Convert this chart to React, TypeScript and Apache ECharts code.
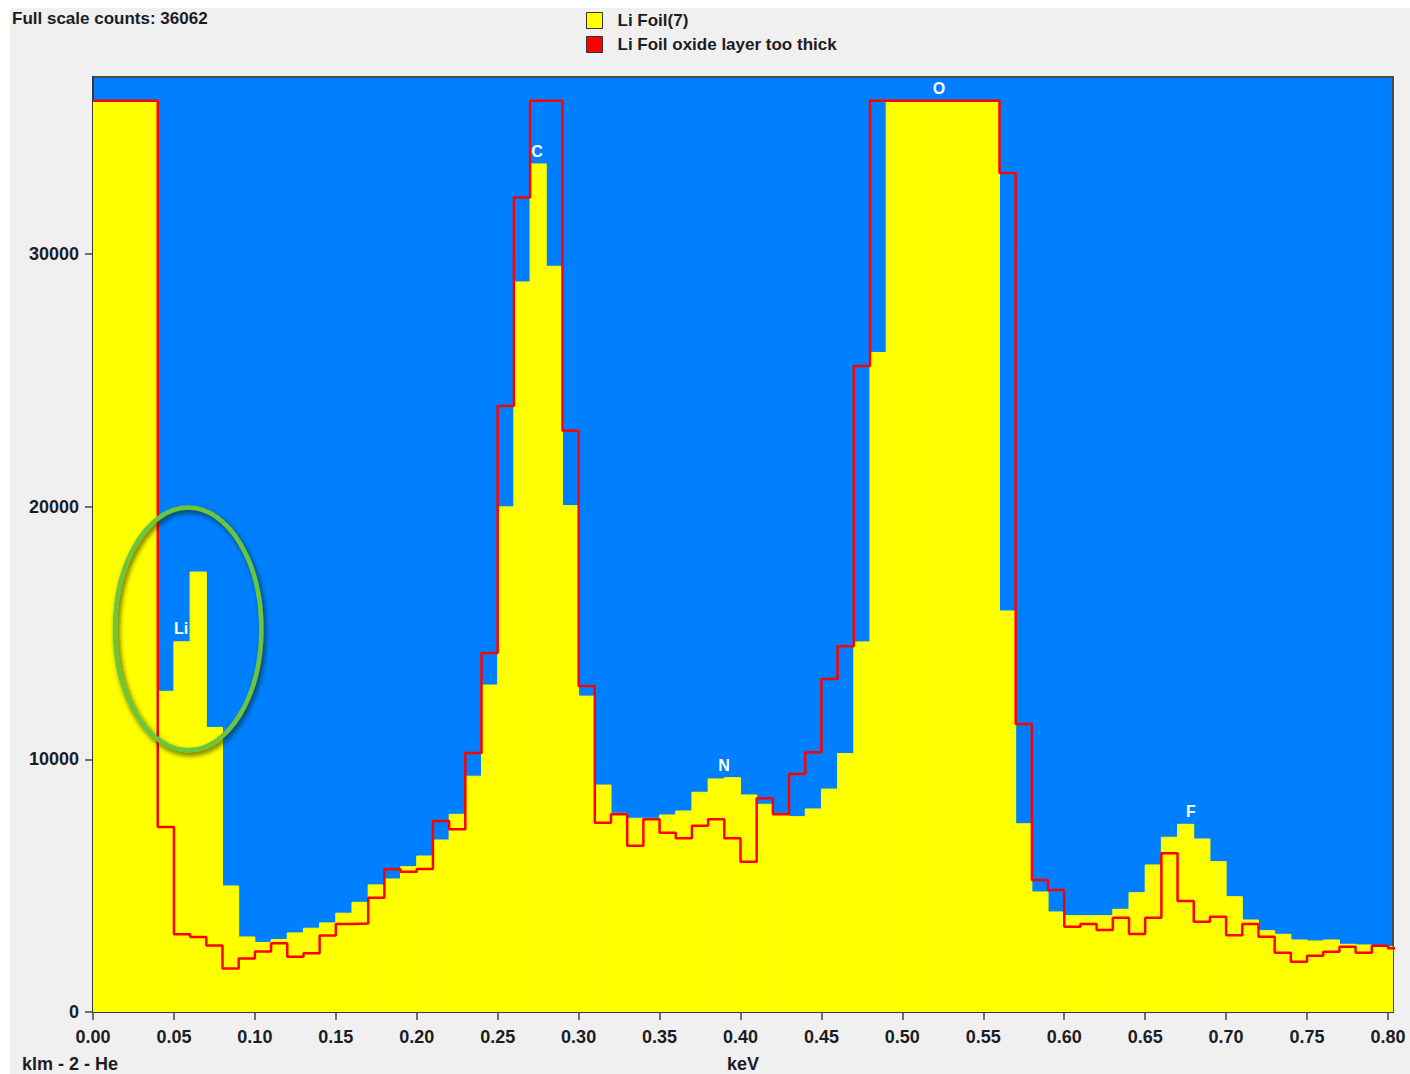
import React, { useEffect, useRef } from "react";
import * as echarts from "echarts";

// Spectrum binning (keV)
const binWidth = 0.01;
const fullScale = 36062;

// Li Foil(7) counts per 0.01 keV bin, starting at 0.00 keV
const liFoil = [
  fullScale, fullScale, fullScale, fullScale, 12690, 14650, 17410, 11260, 4987, 2968,
  2750, 2865, 3130, 3316, 3526, 3910, 4340, 5030, 5264, 5752,
  6174, 6807, 7823, 9330, 12938, 19990, 28890, 33560, 29510, 20040,
  12500, 8980, 7863, 7665, 7665, 7797, 7955, 8695, 9221, 9273,
  8588, 8220, 7797, 7731, 8034, 8820, 10230, 14644, 26100, fullScale,
  fullScale, fullScale, fullScale, fullScale, fullScale, fullScale, 15870, 7450, 4750, 3960,
  3811, 3811, 3811, 4064, 4722, 5818, 6914, 7428, 6847, 5950,
  4564, 3641, 3218, 3075, 2850, 2810, 2850, 2679, 2652, 2624,
  2585,
];

// Li Foil oxide layer too thick, same binning
const oxideThick = [
  fullScale, fullScale, fullScale, fullScale, 7320, 3076, 2964, 2636, 1718, 2113,
  2398, 2723, 2185, 2327, 3032, 3487, 3500, 4520, 5646, 5554,
  5660, 7560, 7230, 10250, 14208, 23984, 32236, fullScale, fullScale, 23002,
  12902, 7493, 7823, 6582, 7625, 7097, 6873, 7375, 7625, 6873,
  5950, 8457, 7823, 9420, 10277, 13179, 14470, 25567, fullScale, fullScale,
  fullScale, fullScale, fullScale, fullScale, fullScale, fullScale, 33205, 11398, 5224, 4828,
  3376, 3483, 3245, 3732, 3087, 3732, 6280, 4393, 3575, 3772,
  3035, 3483, 2980, 2347, 1991, 2229, 2387, 2585, 2347, 2624,
  2519,
];

// Element line markers
const peakNames = ["Li", "C", "N", "O", "F"];
const peakEnergies = [0.0544, 0.2743, 0.3898, 0.5226, 0.6783];
const peakLabelCounts = [15160, 34040, 9740, 36530, 7915];

// Highlight ring around the Li line: centre (keV, counts), half-width (keV), half-height (counts)
const liRing = [[0.0588, 15160, 0.0452, 4800]];

const xTicks = [0, 0.05, 0.1, 0.15, 0.2, 0.25, 0.3, 0.35, 0.4, 0.45, 0.5, 0.55, 0.6, 0.65, 0.7, 0.75, 0.8];
const yTicks = [0, 10000, 20000, 30000];
const xMax = 0.8031;
const yMax = 37000;

const FONT = "'Liberation Sans', Arial, sans-serif";
const TEXT = "#1c1c24";

const edge = (i: number) => Math.round(i * binWidth * 1000) / 1000;

export default function App() {
  const ref = useRef<HTMLDivElement>(null);

  useEffect(() => {
    if (!ref.current) return;
    const chart = echarts.init(ref.current, null, { renderer: "svg" });

    const yellowBins = liFoil.map((v, i) => [edge(i), edge(i + 1), v]);
    const redSteps = oxideThick.map((v, i) => [edge(i), v]);
    redSteps.push([edge(oxideThick.length), oxideThick[oxideThick.length - 1]]);
    const peakData = peakNames.map((n, i) => ({ name: n, value: [peakEnergies[i], peakLabelCounts[i]] }));

    chart.setOption({
      animation: false,
      backgroundColor: "transparent",
      textStyle: { fontFamily: FONT },
      grid: {
        left: 93,
        top: 77,
        width: 1300,
        height: 935,
        outerBoundsMode: "none",
        containLabel: false,
        show: true,
        backgroundColor: "#0080ff",
        borderColor: "#4a4a4a",
        borderWidth: 2,
      },
      legend: {
        orient: "vertical",
        left: 586,
        top: 12,
        padding: 0,
        itemWidth: 16,
        itemHeight: 16,
        itemGap: 7,
        textStyle: { fontFamily: FONT, fontSize: 17, fontWeight: "bold", color: TEXT, padding: [0, 0, 0, 10] },
        data: [
          { name: "Li Foil(7)", icon: "rect", itemStyle: { color: "#ffff00", borderColor: "#333", borderWidth: 1 } },
          { name: "Li Foil oxide layer too thick", icon: "rect", itemStyle: { color: "#ff0000", borderColor: "#333", borderWidth: 1 } },
        ],
      },
      graphic: [
        {
          type: "text",
          left: 12,
          top: 10,
          style: { text: "Full scale counts: " + fullScale, font: `bold 17px ${FONT}`, fill: TEXT },
        },
        {
          type: "text",
          left: 22,
          top: 1055,
          style: { text: "klm - 2 - He", font: `bold 18px ${FONT}`, fill: TEXT },
        },
      ],
      xAxis: {
        type: "value",
        min: 0,
        max: xMax,
        name: "keV",
        nameLocation: "middle",
        nameGap: 43,
        nameTextStyle: { fontFamily: FONT, fontSize: 18, fontWeight: "bold", color: TEXT },
        splitLine: { show: false },
        axisLine: { show: true, lineStyle: { color: "#333", width: 1.5 } },
        axisTick: { show: true, length: 8, inside: false, customValues: xTicks, lineStyle: { color: "#444", width: 1.5 } },
        axisLabel: {
          customValues: xTicks,
          margin: 16,
          fontFamily: FONT,
          fontSize: 18,
          fontWeight: "bold",
          color: TEXT,
          formatter: (v: number) => v.toFixed(2),
        },
      },
      yAxis: {
        type: "value",
        min: 0,
        max: yMax,
        splitLine: { show: false },
        axisLine: { show: true, lineStyle: { color: "#333", width: 1.5 } },
        axisTick: { show: true, length: 8, inside: false, customValues: yTicks, lineStyle: { color: "#444", width: 1.5 } },
        axisLabel: {
          customValues: yTicks,
          margin: 14,
          fontFamily: FONT,
          fontSize: 18,
          fontWeight: "bold",
          color: TEXT,
          formatter: (v: number) => String(Math.round(v)),
        },
      },
      series: [
        {
          name: "Li Foil(7)",
          type: "custom",
          clip: true,
          itemStyle: { color: "#ffff00" },
          encode: { x: [0, 1], y: 2 },
          data: yellowBins,
          renderItem: (_p: any, api: any) => {
            const p0 = api.coord([api.value(0), api.value(2)]);
            const p1 = api.coord([api.value(1), 0]);
            return {
              type: "rect",
              shape: { x: p0[0], y: p0[1], width: p1[0] - p0[0], height: p1[1] - p0[1] },
              style: { fill: "#ffff00", stroke: "#ffff00", lineWidth: 1 },
            };
          },
        },
        {
          name: "Li Foil oxide layer too thick",
          type: "line",
          step: "end",
          symbol: "none",
          clip: true,
          data: redSteps,
          itemStyle: { color: "#ff0000" },
          lineStyle: { color: "#ff0000", width: 2.5 },
          z: 3,
        },
        {
          name: "ring",
          type: "custom",
          clip: false,
          data: liRing,
          z: 4,
          renderItem: (_p: any, api: any) => {
            const c = api.coord([api.value(0), api.value(1)]);
            const s = api.size([api.value(2), api.value(3)]);
            return {
              type: "ellipse",
              shape: { cx: c[0], cy: c[1], rx: s[0], ry: s[1] },
              style: {
                fill: "none",
                stroke: "#6cc63c",
                lineWidth: 4.5,
                shadowBlur: 5,
                shadowColor: "rgba(20,40,0,0.75)",
                shadowOffsetX: 2,
                shadowOffsetY: 3,
              },
            };
          },
        },
        {
          name: "peaks",
          type: "custom",
          clip: false,
          data: peakData,
          z: 5,
          renderItem: (params: any, api: any) => {
            const c = api.coord([api.value(0), api.value(1)]);
            return {
              type: "text",
              x: c[0],
              y: c[1],
              style: {
                text: peakNames[params.dataIndex],
                fill: "#ffffff",
                font: `bold 16px ${FONT}`,
                align: "center",
                verticalAlign: "middle",
              },
            };
          },
        },
      ],
    });

    return () => chart.dispose();
  }, []);

  return (
    <div style={{ position: "absolute", left: 0, top: 0, width: 1410, height: 1074, background: "#ffffff", overflow: "hidden" }}>
      <div style={{ position: "absolute", left: 10, top: 8, width: 1400, height: 1066, background: "#f0f0f0" }} />
      <div ref={ref} style={{ position: "absolute", left: 0, top: 0, width: 1410, height: 1074 }} />
    </div>
  );
}
